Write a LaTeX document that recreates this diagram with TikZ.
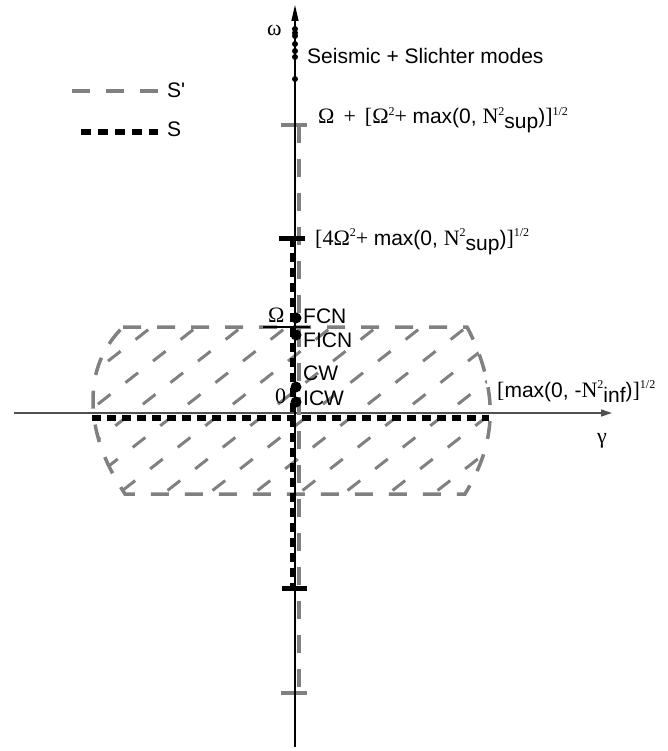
\documentclass[tikz,border=0pt]{standalone}
\usepackage{fontspec}
\setmainfont{Liberation Sans}
\newfontfamily\tm{Liberation Serif}
\newfontfamily\plainsans{Liberation Sans}
\usetikzlibrary{arrows.meta}
\definecolor{gline}{RGB}{128,128,128}
\definecolor{axgray}{RGB}{80,80,80}
\newcommand\srf{\fontsize{22}{22}\selectfont\tm}
\newcommand\spx[1]{\raisebox{8.5pt}{\fontsize{12}{12}\selectfont\tm #1}}
\newcommand\sbx[1]{\raisebox{-5pt}{#1}}
\begin{document}
\begin{tikzpicture}[x=1pt,y=-1pt,
  lab/.style={anchor=base west,inner sep=0pt,font=\fontsize{21}{21}\selectfont},
  gdash/.style={draw=gline,line width=4pt,dash pattern=on 18pt off 16pt},
  bdash/.style={draw=black,line width=6pt,dash pattern=on 9pt off 6pt},
  gtick/.style={draw=gline,line width=3.5pt},
  btick/.style={draw=black,line width=5pt},
  hatch/.style={draw=gline,line width=3pt,dash pattern=on 16pt off 19pt},
  outline/.style={draw=gline,line width=3.5pt,dash pattern=on 18pt off 16pt},
  bigdot/.style={circle,fill=black,inner sep=0pt,minimum size=11pt},
  smalldot/.style={circle,fill=black,inner sep=0pt,minimum size=6pt}]
\useasboundingbox (0,0) rectangle (667,751);
% coordinates
\coordinate (vbot) at (295,747);
\coordinate (vtop) at (295,5);
\coordinate (hleft) at (14,413);
\coordinate (hright) at (612,413);
% hatched region
\begin{scope}
\clip (123,327) -- (467,327) .. controls (482,355) and (492,390) .. (490,420) .. controls (488,450) and (478,472) .. (465,494) -- (125,494) .. controls (108,468) and (93,438) .. (93,400) .. controls (93,372) and (102,348) .. cycle;
\foreach \x in {-220,-175,...,520} \draw[hatch] (\x,512) -- ++(243,-190);
\end{scope}
\draw[outline] (123,327) -- (467,327) .. controls (482,355) and (492,390) .. (490,420) .. controls (488,450) and (478,472) .. (465,494) -- (125,494) .. controls (108,468) and (93,438) .. (93,400) .. controls (93,372) and (102,348) .. cycle;
% axes
\draw[axgray,line width=1.3pt,-{Triangle[length=11pt,width=7pt]}] (hleft) -- (hright);
% S' vertical
\coordinate (gtop) at (299,125);
\coordinate (gbot) at (299,693);
\draw[gdash] (gtop) -- (gbot);
\draw[gtick] (281,125) -- (307,125);
\draw[gtick] (281,693) -- (307,693);
% S lines
\coordinate (btop) at (293,238);
\coordinate (bbot) at (293,588);
\draw[bdash] (btop) -- (bbot);
\draw[bdash] (92,418) -- (489,418);
\draw[btick] (279,238) -- (305,238);
\draw[btick] (282,588) -- (307,588);
% vertical axis
\draw[black,line width=1.3pt,-{Triangle[length=16pt,width=7pt]}] (vbot) -- (vtop);
% Omega tick
\draw[black,line width=1.5pt] (263,327) -- (310,327);
% small dots
\foreach \y [count=\i] in {29,33,36,44,51,57,79} \node[smalldot] (sd\i) at (295,\y) {};
% big dots
\node[bigdot] (fcn) at (296,318) {};
\node[bigdot] (ficn) at (296,335) {};
\node[bigdot] (cw) at (296,387) {};
\node[bigdot] (icw) at (296,402) {};
% labels
\node[lab,font=\srf] (omega) at (267,36) {ω};
\node[lab] (seis) at (307,64) {Seismic + Slichter modes};
\node[lab] (l1) at (318,124) {{\srf Ω\hspace{9pt}+\hspace{9pt}[Ω\spx{2}+ }max(0, {\srf N\spx{2}}\sbx{sup}){\srf ]\spx{1/2}}};
\node[lab] (l2) at (315,245) {{\srf [4Ω\spx{2}+ }max(0, {\srf N\spx{2}}\sbx{sup}){\srf ]\spx{1/2}}};
\node[lab] (l3) at (497,397) {{\srf [}max(0, -{\srf N\spx{2}}\sbx{inf}){\srf ]\spx{1/2}}};
\node[lab,font=\srf] (Om) at (268,322) {Ω};
\node[lab] (tfcn) at (303,323) {FCN};
\node[lab] (tficn) at (303,347) {FICN};
\node[lab] (tcw) at (303,380) {CW};
\node[lab,font=\srf] (zero) at (275,403) {0};
\node[lab] (ticw) at (303,405) {ICW};
\node[lab,font=\srf] (gam) at (597,443) {γ};
% legend
\draw[gdash] (72,91) -- (158,91);
\node[lab] (lsp) at (167,98) {\plainsans S'};
\draw[bdash,dash pattern=on 10pt off 7pt] (81,132) -- (158,132);
\node[lab] (ls) at (167,137) {S};
\end{tikzpicture}
\end{document}
